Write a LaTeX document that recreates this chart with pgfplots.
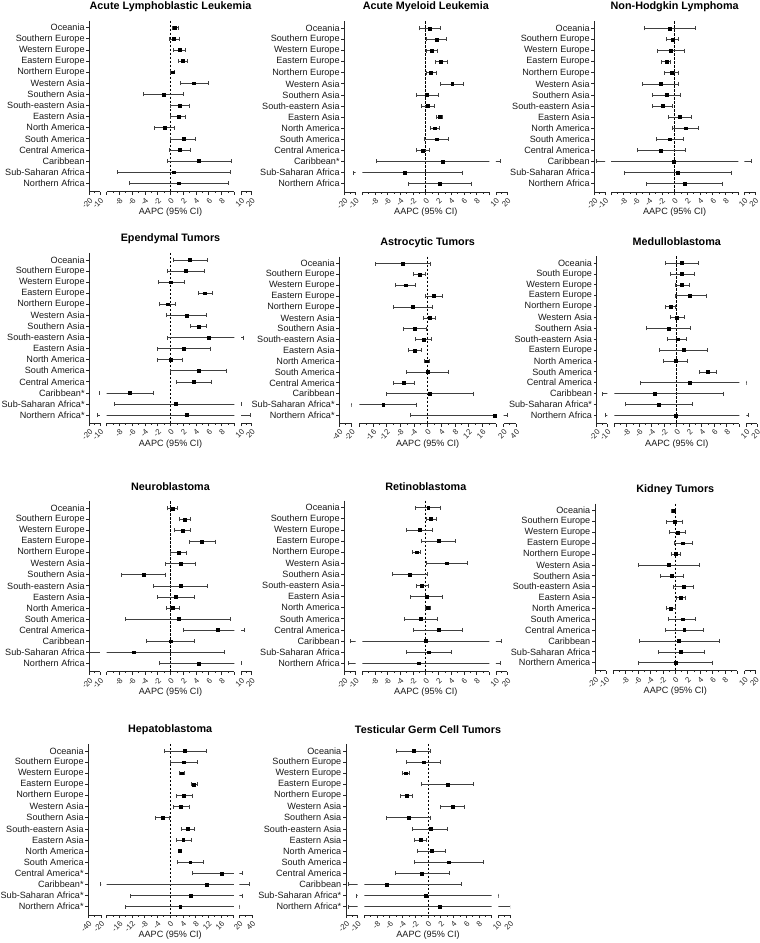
\documentclass[border=0pt]{standalone}
\usepackage{fontspec}
\setmainfont{Liberation Sans}
\usepackage{pgfplots}
\usepackage{pgfplotstable}
\pgfplotsset{compat=1.18}

\newcommand\tsp{\hspace{3pt}}

\pgfplotstableread{
y m lo hi
0 0.70 0.34 1.23
1 0.55 -0.18 1.38
2 1.49 0.44 2.32
3 1.91 1.23 2.69
4 0.34 0.03 0.60
5 3.68 1.49 5.98
6 -1.12 -4.26 2.06
7 1.49 0.03 2.95
8 1.23 0.03 2.38
9 -0.97 -2.58 0.60
10 2.01 0.03 3.94
11 1.49 -0.18 3.11
12 4.46 -0.55 9.48
13 0.55 -8.33 9.37
14 1.33 -6.45 9.11
}\tabALL

\pgfplotstableread{
y m lo hi
0 0.66 -1.08 2.34
1 1.71 0.13 3.28
2 0.92 0.03 1.86
3 2.34 1.44 3.44
4 0.81 0.03 1.71
5 4.17 2.28 5.91
6 0.18 -1.55 2.02
7 0.24 -0.71 1.29
8 2.13 1.71 2.60
9 1.44 0.66 2.13
10 1.71 -0.24 3.60
11 -0.50 -1.44 0.50
12 2.65 -7.83 14.0
13 -3.28 -12.2 5.77
14 2.23 -2.76 7.22
}\tabAML

\pgfplotstableread{
y m lo hi
0 -0.79 -4.82 3.30
1 -0.31 -1.31 0.63
2 -0.63 -2.72 1.47
3 -1.31 -2.04 -0.63
4 -0.47 -1.57 0.63
5 -2.25 -5.08 0.63
6 -1.31 -3.51 0.94
7 -1.88 -3.51 -0.31
8 0.79 -0.99 2.62
9 1.68 -0.31 3.72
10 -0.79 -2.83 1.41
11 -2.25 -5.92 1.68
12 -0.21 -17.8 16.9
13 0.47 -7.90 8.95
14 1.52 -4.40 7.49
}\tabNHL

\pgfplotstableread{
y m lo hi
0 3.05 0.44 5.77
1 2.43 -0.50 5.30
2 0.08 -1.91 2.17
3 5.35 4.36 6.55
4 -0.50 -1.75 0.81
5 2.53 -0.60 5.67
6 4.36 3.05 5.67
7 5.93 -0.50 12.5
8 2.01 -2.06 6.29
9 0.00 -2.06 1.91
10 4.36 0.00 8.80
11 3.58 0.97 6.40
12 -6.45 -10.6 -2.69
13 0.86 -8.85 10.3
14 2.53 -12.5 18.75
}\tabEPE

\pgfplotstableread{
y m lo hi
0 -7.32 -15.4 0.68
1 -2.44 -4.20 -0.59
2 -6.54 -9.37 -3.51
3 1.76 -0.59 4.29
4 -4.49 -10.05 1.37
5 0.49 -1.17 2.15
6 -3.80 -7.12 -0.29
7 -1.27 -3.71 1.17
8 -3.71 -5.66 -1.76
9 -0.29 -1.07 0.39
10 0.00 -6.15 6.15
11 -7.12 -10.05 -4.00
12 0.68 -12.0 13.37
13 -12.98 -21.0 -3.22
14 19.7 -4.98 26.0
}\tabAST

\pgfplotstableread{
y m lo hi
0 0.77 -1.89 3.44
1 0.77 -0.99 2.80
2 0.77 -0.19 2.00
3 2.11 -0.29 4.67
4 -0.99 -1.79 -0.19
5 -0.03 -0.99 1.15
6 -1.36 -4.83 2.21
7 0.08 -1.47 1.57
8 1.04 -2.80 4.88
9 -0.19 -2.16 1.68
10 4.88 3.55 6.37
11 2.05 -5.89 10.3
12 -3.49 -14.7 7.44
13 -2.85 -8.29 2.53
14 -0.19 -12.2 11.6
}\tabMED

\pgfplotstableread{
y m lo hi
0 0.34 -0.50 1.07
1 2.17 1.33 3.05
2 1.85 0.60 3.05
3 4.88 2.90 7.08
4 1.23 0.00 2.43
5 1.54 -0.76 3.89
6 -4.26 -7.70 -0.86
7 1.54 -2.69 5.77
8 0.86 -2.01 3.73
9 0.34 -0.60 1.38
10 1.23 -7.08 9.43
11 7.34 2.01 13.4
12 0.00 -3.73 3.73
13 -5.77 -22.0 8.43
14 4.36 -1.70 10.2
}\tabNEU

\pgfplotstableread{
y m lo hi
0 0.39 -1.60 2.34
1 0.81 0.03 1.71
2 -1.02 -3.02 1.02
3 1.97 -0.76 4.70
4 -1.44 -2.07 -0.92
5 3.28 0.03 6.59
6 -2.49 -5.22 0.24
7 -0.60 -1.50 0.39
8 0.13 -2.39 2.60
9 0.29 -0.03 0.66
10 -0.81 -3.44 1.86
11 1.97 -1.97 5.75
12 0.03 -14.7 15.0
13 0.50 -3.02 3.96
14 -1.18 -16.25 14.0
}\tabRET

\pgfplotstableread{
y m lo hi
0 -0.32 -0.70 -0.05
1 -0.16 -1.45 1.13
2 0.38 -0.97 1.61
3 1.18 -0.16 2.74
4 0.11 -0.59 0.75
5 -1.02 -5.97 3.87
6 -0.59 -2.42 1.29
7 1.29 -0.32 2.96
8 0.91 0.11 1.61
9 -0.70 -1.40 -0.05
10 1.13 -1.13 3.28
11 1.45 -1.56 4.52
12 0.59 -5.86 7.04
13 0.91 -2.74 4.62
14 0.00 -5.97 5.97
}\tabKID

\pgfplotstableread{
y m lo hi
0 4.53 -1.90 11.3
1 4.20 0.10 8.40
2 3.70 2.95 4.50
3 7.40 6.50 8.40
4 4.30 1.90 6.95
5 3.26 1.05 5.90
6 -2.42 -4.63 -0.20
7 5.58 3.58 7.68
8 4.10 1.80 6.60
9 2.95 2.50 3.40
10 6.30 2.20 10.3
11 16.1 7.05 24.6
12 11.5 -21.0 36.0
13 6.40 -12.6 24.6
14 3.16 -14.2 20.5
}\tabHEP

\pgfplotstableread{
y m lo hi
0 -2.30 -4.92 0.31
1 -0.68 -3.35 1.99
2 -3.46 -4.08 -2.93
3 3.09 -1.05 7.17
4 -3.40 -4.35 -2.46
5 3.87 1.99 5.71
6 -3.04 -6.49 0.37
7 0.37 -2.41 3.09
8 -1.15 -2.09 -0.21
9 0.58 -1.68 2.77
10 3.30 -2.09 8.74
11 -0.94 -5.13 3.30
12 -6.54 -17.9 5.29
13 -0.37 -10.9 10.3
14 1.78 -18.5 20.0
}\tabTGC

\pgfplotsset{
  seg/.style={
    scale only axis, anchor=south west,
    ymin=-0.65, ymax=14.75, y dir=reverse,
    axis x line*=bottom,
    tick align=outside,
    major tick length=3pt, minor tick length=1.6pt,
    axis line style={line width=0.8pt, black!85},
    every tick/.style={line width=0.7pt, black!85},
    xticklabel style={font=\fontsize{7.8}{8}\selectfont, rotate=45, anchor=north east, inner sep=1.6pt, black!85},
  },
  segLA/.style={xmin=-20, xmax=-10, xtick={-20,-10}, xticklabels={-20,-10}, minor xtick={-15}},
  segMA/.style={xmin=-10, xmax=10, xtick={-10,-8,...,10}, xticklabels={,-8,-6,-4,-2,0,2,4,6,8,}, minor xtick={-9,-7,...,9}},
  segRA/.style={xmin=10, xmax=20, xtick={10,20}, xticklabels={10,20}, minor xtick={15}},
  segLB/.style={xmin=-40, xmax=-20, xtick={-40,-20}, xticklabels={-40,-20}, minor xtick={-30}},
  segMB/.style={xmin=-20, xmax=20, xtick={-20,-16,...,20}, xticklabels={,-16,-12,-8,-4,0,4,8,12,16,}, minor xtick={-18,-14,...,18}},
  segRB/.style={xmin=20, xmax=40, xtick={20,40}, xticklabels={20,40}, minor xtick={30}},
}

\newcommand\dataplot[1]{%
  \addplot[black, only marks, mark=square*, mark size=1.4pt,
    error bars/.cd, x dir=both, x explicit,
    error bar style={line width=0.5pt, black!75},
    error mark options={line width=0.5pt, black!75, mark size=2pt, rotate=90}]
   table[x=m, y=y, x error plus expr=\thisrow{hi}-\thisrow{m}, x error minus expr=\thisrow{m}-\thisrow{lo}] {#1};
}

% #1 X0, #2 Lend, #3 Mstart, #4 Mend, #5 top, #6 bottom, #7 table, #8 title, #9 labels
\newcommand\panel[9]{%
  \pgfmathsetmacro\Hh{#6-#5}%
  \pgfmathsetmacro\Wl{#2-#1}%
  \pgfmathsetmacro\Wm{#4-#3}%
  \pgfmathsetmacro\Rs{#4+#3-#2}%
  \begin{axis}[seg, segL\segtype, at={(#1pt,-#6pt)}, width=\Wl pt, height=\Hh pt,
      axis y line*=left, ytick={0,...,14}, yticklabels={#9},
      yticklabel style={font=\fontsize{9.1}{10}\selectfont, inner sep=1.5pt, black!90},
      major tick length=3pt]
    \dataplot{#7}
  \end{axis}
  \begin{axis}[seg, segM\segtype, at={(#3pt,-#6pt)}, width=\Wm pt, height=\Hh pt,
      axis y line=none, ytick=\empty,
      title={#8},
      title style={font=\fontsize{10.8}{12}\selectfont\bfseries, at={(0.5,1)}, anchor=center, yshift=8pt},
      xlabel={AAPC (95\% CI)},
      xlabel style={font=\fontsize{9.1}{10}\selectfont, inner sep=0pt, at={(axis description cs:0.5,0)}, anchor=center, yshift=-20.5pt, black!90}]
    \addplot[black, line width=0.8pt, dash pattern=on 2.5pt off 1.5pt] coordinates {(0,-0.65) (0,14.75)};
    \dataplot{#7}
  \end{axis}
  \begin{axis}[seg, segR\segtype, at={(\Rs pt,-#6pt)}, width=\Wl pt, height=\Hh pt,
      axis y line=none, ytick=\empty]
    \dataplot{#7}
  \end{axis}
}

\begin{document}
\begin{tikzpicture}[x=1pt,y=1pt]
\path[use as bounding box] (0,0) rectangle (760,-943);

\def\segtype{A}
\panel{89.3}{100}{106.7}{234.3}{20.5}{191.6}{\tabALL}{Acute Lymphoblastic Leukemia}
{Oceania,Southern Europe,Western Europe,Eastern Europe,Northern Europe,Western Asia,Southern Asia,South-eastern Asia,Eastern Asia,North America\tsp,South America,Central America,Caribbean\tsp,Sub-Saharan Africa,Northern Africa}

\panel{344.3}{355.7}{362.3}{489.3}{21.1}{192.0}{\tabAML}{Acute Myeloid Leukemia}
{Oceania,Southern Europe,Western Europe,Eastern Europe,Northern Europe,Western Asia,Southern Asia,South-eastern Asia,Eastern Asia,North America,South America,Central America,Caribbean*,Sub-Saharan Africa,Northern Africa}

\panel{594.3}{605}{611}{738.3}{21.1}{192.0}{\tabNHL}{Non-Hodgkin Lymphoma}
{Oceania,Southern Europe,Western Europe,Eastern Europe,Northern Europe,Western Asia,Southern Asia,South-eastern Asia,Eastern Asia,North America,South America,Central America,Caribbean,Sub-Saharan Africa,Northern Africa}

\panel{89.3}{100}{106.7}{234.3}{252.8}{423.3}{\tabEPE}{Ependymal Tumors}
{Oceania,Southern Europe,Western Europe,Eastern Europe,Northern Europe,Western Asia,Southern Asia,South-eastern Asia,Eastern Asia,North America,South America,Central America,Caribbean*,Sub-Saharan Africa*,Northern Africa*}

\def\segtype{B}
\panel{339.3}{351.7}{359.3}{496}{256.5}{423.5}{\tabAST}{Astrocytic Tumors}
{Oceania,Southern Europe,Western Europe,Eastern Europe,Northern Europe,Western Asia,Southern Asia,South-eastern Asia,Eastern Asia,North America\tsp,South America,Central America,Caribbean,Sub-Saharan Africa*,Northern Africa*}

\def\segtype{A}
\panel{596.7}{607.3}{614.3}{739.3}{256.0}{423.5}{\tabMED}{Medulloblastoma}
{Oceania,South Europe,Western Europe,Eastern Europe,Northern Europe,Western Asia,Southern Asia,South-eastern Asia,Eastern Europe,North America\tsp,South America,Central America,Caribbean,Sub-Saharan Africa*,Northern Africa\tsp}

\panel{89.3}{100}{106.7}{234.3}{501.1}{671.6}{\tabNEU}{Neuroblastoma}
{Oceania,Southern Europe,Western Europe,Eastern Europe,Northern Europe,Western Asia,Southern Asia,South-eastern Asia,Eastern Asia,North America\tsp,South America,Central America,Caribbean,Sub-Saharan Africa,Northern Africa\tsp}

\panel{344.3}{355.7}{362.3}{489.3}{500.5}{671.6}{\tabRET}{Retinoblastoma}
{Oceania,Southern Europe,Western Europe,Eastern Europe,Northern Europe,Western Asia,Southern Asia,South-eastern Asia,Eastern Asia,North America\tsp,South America,Central America,Caribbean,Sub-Saharan Africa,Northern Africa}

\panel{595}{606}{613.3}{737.3}{503.6}{670.8}{\tabKID}{Kidney Tumors}
{Oceania,Southern Europe,Western Europe,Eastern Europe,Northern Europe,Western Asia,Southern Asia,South-eastern Asia,Eastern Asia,North America,South America,Central America,Caribbean,Sub-Saharan Africa\tsp,Northern America\tsp}

\def\segtype{B}
\panel{88.3}{101}{106.5}{233.8}{743.8}{915}{\tabHEP}{Hepatoblastoma}
{Oceania,Southern Europe,Western Europe,Eastern Europe,Northern Europe,Western Asia,Southern Asia,South-eastern Asia,Eastern Asia,North America,South America,Central America*,Caribbean*,Sub-Saharan Africa*,Northern Africa*}

\def\segtype{A}
\panel{346}{357.7}{364.3}{491.7}{743.8}{915}{\tabTGC}{Testicular Germ Cell Tumors}
{Oceania,Southern Europe,Western Europe,Eastern Europe,Northern Europe,Western Asia,Southern Asia,South-eastern Asia,Eastern Asia,North America\tsp,South America,Central America,Caribbean,Sub-Saharan Africa*,Northern Africa*}

\end{tikzpicture}
\end{document}
